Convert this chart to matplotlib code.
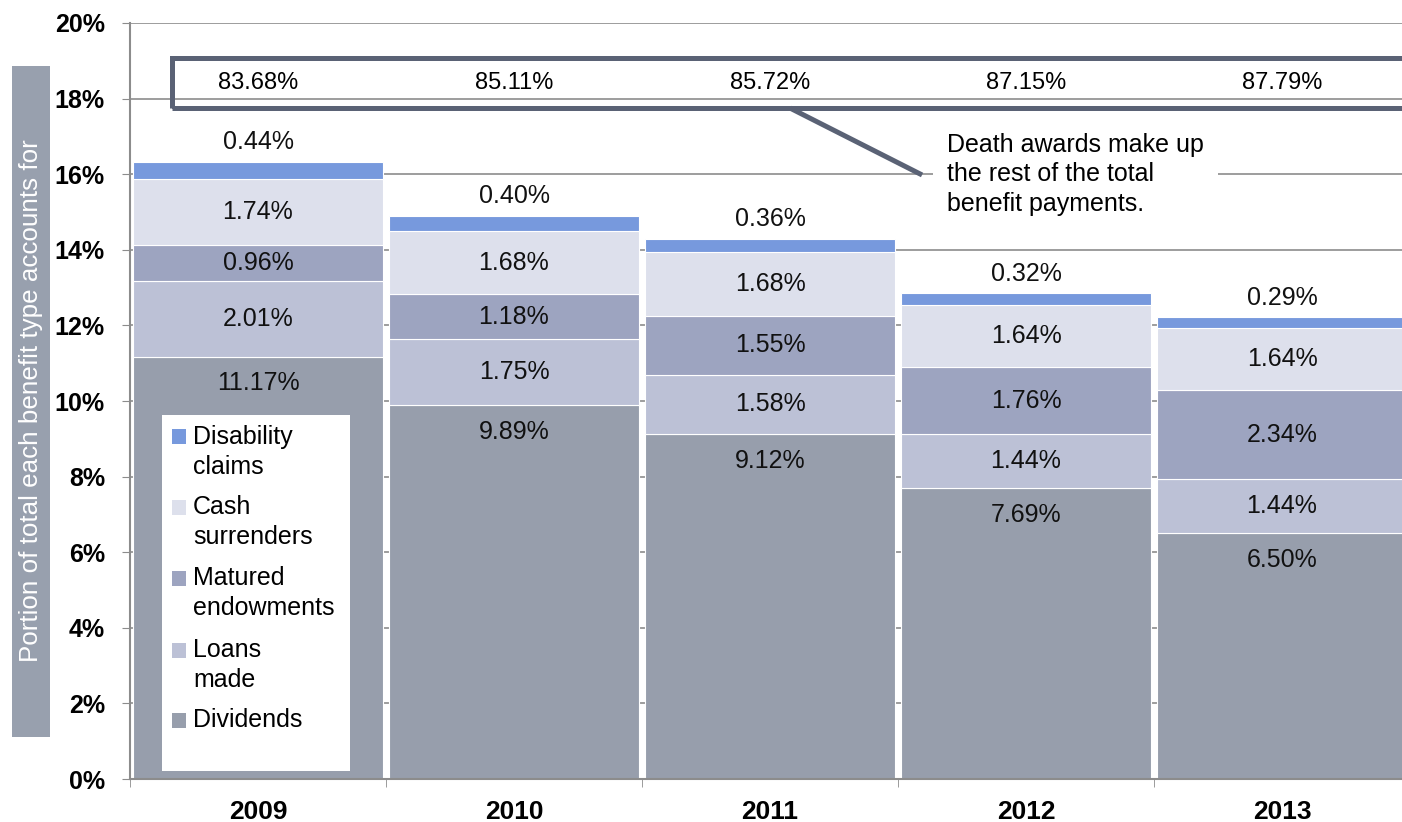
import matplotlib
matplotlib.use("Agg")
import numpy as np
import matplotlib.pyplot as plt
from matplotlib.patches import Rectangle

years = ["2009", "2010", "2011", "2012", "2013"]
dividends = [11.17, 9.89, 9.12, 7.69, 6.50]
loans = [2.01, 1.75, 1.58, 1.44, 1.44]
matured = [0.96, 1.18, 1.55, 1.76, 2.34]
cash = [1.74, 1.68, 1.68, 1.64, 1.64]
disability = [0.44, 0.40, 0.36, 0.32, 0.29]
death = [83.68, 85.11, 85.72, 87.15, 87.79]

series = [
    ("Dividends", dividends, "#979eac"),
    ("Loans\nmade", loans, "#bcc1d6"),
    ("Matured\nendowments", matured, "#9da4c0"),
    ("Cash\nsurrenders", cash, "#dde0ec"),
    ("Disability\nclaims", disability, "#7799dd"),
]

plt.rcParams["font.family"] = ["Liberation Sans", "DejaVu Sans"]

fig = plt.figure(figsize=(14.02, 8.22), dpi=100)
ax = fig.add_axes([130 / 1402, 43 / 822, 1280 / 1402, 756 / 822])

x = np.arange(len(years))
bottom = np.zeros(len(years))
for name, vals, col in series:
    vals = np.array(vals)
    ax.bar(x, vals, 0.98, bottom=bottom, color=col, edgecolor="white",
           linewidth=0.8, zorder=2, label=name)
    for xi, v, b0 in zip(x, vals, bottom):
        if name == "Dividends":
            y = b0 + v - 0.7
        elif name.startswith("Disability"):
            y = b0 + v + 0.52
        else:
            y = b0 + v / 2
        ax.text(xi, y, f"{v:.2f}%", ha="center", va="center", fontsize=18,
                color="#111111", zorder=5)
    bottom += vals

ax.set_ylim(0, 20)
ax.set_xlim(-0.5, 4.5)
ax.set_yticks(np.arange(0, 21, 2))
ax.set_yticklabels([f"{t}%" for t in range(0, 21, 2)], fontsize=18, fontweight="bold")
ax.set_xticks(x)
ax.set_xticklabels(years, fontsize=19, fontweight="bold")
ax.set_xticks(np.arange(-0.5, 5, 1), minor=True)
ax.tick_params(axis="x", which="major", length=0, pad=15)
ax.tick_params(axis="x", which="minor", length=6, color="#8c8c8c", direction="out")
ax.tick_params(axis="y", length=6, color="#8c8c8c", pad=12)
ax.grid(axis="y", color="#8c8c8c", lw=1.2, zorder=0)
ax.set_axisbelow(True)
for s in ["top", "right"]:
    ax.spines[s].set_visible(False)
for s in ["left", "bottom"]:
    ax.spines[s].set_color("#8c8c8c")
    ax.spines[s].set_linewidth(1.5)

# death awards box
ax.add_patch(Rectangle((-0.336, 17.75), 5.2, 1.32, fill=False, lw=3.6,
                       edgecolor="#5a6275", zorder=6, clip_on=False))
for xi, d in zip(x, death):
    ax.text(xi, 18.42, f"{d:.2f}%", ha="center", va="center", fontsize=17, zorder=7)
ax.plot([2.078, 2.594], [17.75, 15.98], color="#5a6275", lw=3.6, zorder=6,
        solid_capstyle="butt")
ax.text(2.691, 17.1, "Death awards make up\nthe rest of the total\nbenefit payments.",
        ha="left", va="top", fontsize=18, linespacing=1.3, zorder=7,
        bbox=dict(facecolor="white", edgecolor="none", pad=10))

# legend (drawn by hand: square sits on first line of each label)
def px(xp, yp):
    return (xp - 130) / 1280, (779 - yp) / 756

lx, ly = px(162, 771)
rx, ry = px(350, 415)
ax.add_patch(Rectangle((lx, ly), rx - lx, ry - ly, transform=ax.transAxes,
                       facecolor="white", edgecolor="none", zorder=8))
entry_y = [437, 507, 578, 650, 720]
for (name, vals, col), yp in zip(series[::-1], entry_y):
    sx, sy = px(172, yp + 7.5)
    w, _ = px(130 + 14, 779)
    ax.add_patch(Rectangle((sx, sy), w, 15 / 756, transform=ax.transAxes,
                           facecolor=col, edgecolor="none", zorder=9))
    for k, line in enumerate(name.split("\n")):
        tx, ty = px(193, yp + 30 * k)
        ax.text(tx, ty, line, transform=ax.transAxes, ha="left", va="center",
                fontsize=18, zorder=10)

# y-axis label box
fig.patches.append(Rectangle((12 / 1402, (822 - 737) / 822), 38 / 1402, 671 / 822,
                             transform=fig.transFigure, facecolor="#98a0ae",
                             edgecolor="none"))
fig.text(31 / 1402, (822 - 401) / 822, "Portion of total each benefit type accounts for",
         rotation=90, ha="center", va="center", color="white", fontsize=18.7)

fig.savefig("out.png", dpi=100)
